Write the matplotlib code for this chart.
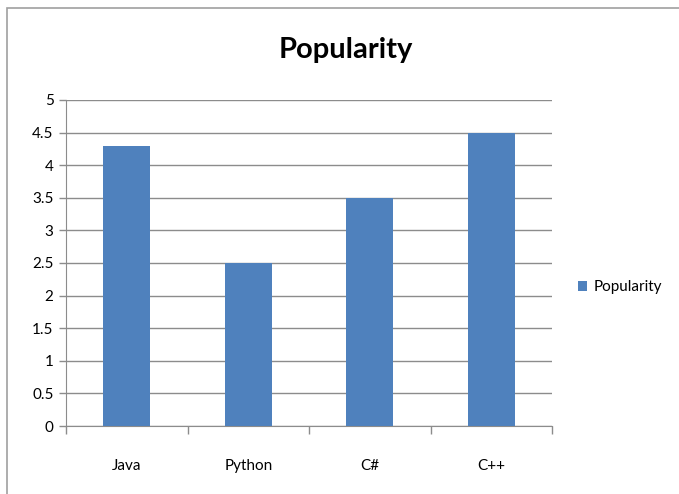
import numpy as np
import matplotlib.pyplot as plt
from matplotlib.patches import Rectangle

languages = ["Java", "Python", "C#", "C++"]
popularity = [4.3, 2.5, 3.5, 4.5]
yticks = [0, 0.5, 1, 1.5, 2, 2.5, 3, 3.5, 4, 4.5, 5]
ytick_labels = ["0", "0.5", "1", "1.5", "2", "2.5", "3", "3.5", "4", "4.5", "5"]

plt.rcParams['font.family'] = ['Lato', 'DejaVu Sans']

W, H = 679, 494
fig = plt.figure(figsize=(W / 100, H / 100), dpi=100)

# chart frame (Excel style outer border)
fig.patches.append(Rectangle((7 / W, -0.1), 1.2, (H - 8) / H + 0.1,
                             transform=fig.transFigure, fill=False,
                             edgecolor="#a0a0a0", lw=1.2))

ax = fig.add_axes([66 / W, (H - 426) / H, (552 - 66) / W, (426 - 100) / H])
x = np.arange(len(languages))
ax.bar(x, popularity, width=0.39, color="#4F81BD", label="Popularity", zorder=3)

ax.set_xlim(-0.5, len(languages) - 0.5)
ax.set_ylim(0, 5)
ax.set_yticks(yticks)
ax.set_yticklabels(ytick_labels, fontsize=11)
ax.yaxis.grid(True, color="#8c8c8c", lw=1)
ax.set_axisbelow(True)

ax.set_xticks(x)
ax.set_xticklabels(languages, fontsize=11)
ax.tick_params(axis="x", length=0, pad=24)
ax.set_xticks(np.arange(-0.5, len(languages)), minor=True)
ax.tick_params(axis="x", which="minor", length=6, color="#8c8c8c", width=1)
ax.tick_params(axis="y", length=5, color="#8c8c8c", width=1, pad=4)

for s in ["top", "right"]:
    ax.spines[s].set_visible(False)
ax.spines["left"].set_color("#8c8c8c")
ax.spines["bottom"].set_color("#8c8c8c")

fig.text(346 / W, 1 - 50 / H, "Popularity", ha="center", va="center",
         fontsize=21, fontweight="bold")

leg = ax.legend(loc="center left", bbox_to_anchor=(1.025, 0.425), frameon=False,
                fontsize=11, handlelength=0.6, handleheight=0.6, handletextpad=0.4)

fig.savefig("out.png", dpi=100)
